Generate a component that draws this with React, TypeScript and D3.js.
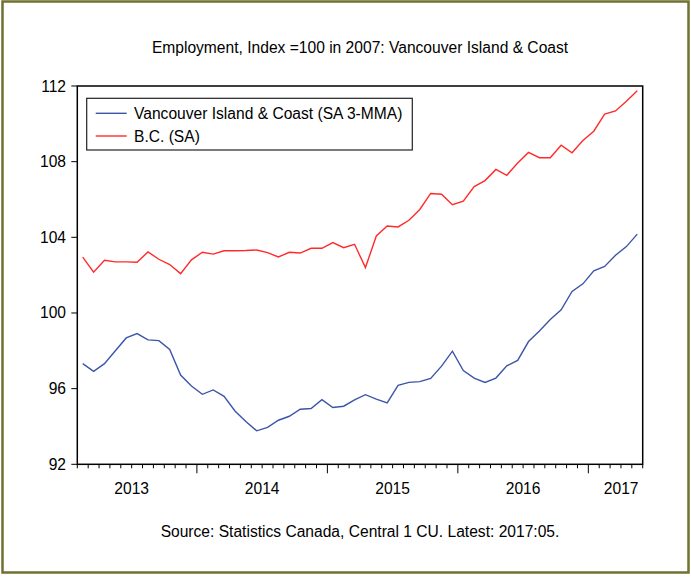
import React from "react";
import * as d3 from "d3";

const title = "Employment, Index =100 in 2007: Vancouver Island & Coast";
const source = "Source: Statistics Canada, Central 1 CU. Latest: 2017:05.";
const seriesNames = ["Vancouver Island & Coast (SA 3-MMA)", "B.C. (SA)"];
const startYear = 2013;
const startMonth = 2; // first observation: 2013:02
const yearLabels = ["2013", "2014", "2015", "2016", "2017"];
const yTicks = [92, 96, 100, 104, 108, 112];

const vancouverIsland = [
  97.32, 96.91, 97.32, 98.0, 98.68, 98.91, 98.58, 98.54, 98.07, 96.72,
  96.14, 95.7, 95.93, 95.59, 94.82, 94.26, 93.77, 93.95, 94.33, 94.54,
  94.91, 94.95, 95.42, 95.0, 95.07, 95.4, 95.68, 95.45, 95.25, 96.17,
  96.33, 96.37, 96.54, 97.19, 97.98, 96.96, 96.56, 96.33, 96.56, 97.21,
  97.49, 98.49, 99.05, 99.65, 100.17, 101.14, 101.54, 102.23, 102.46, 103.05,
  103.51, 104.17,
];

const bc = [
  102.95, 102.16, 102.79, 102.7, 102.7, 102.68, 103.23, 102.84, 102.56, 102.08,
  102.81, 103.21, 103.11, 103.29, 103.29, 103.3, 103.33, 103.19, 102.96, 103.21,
  103.17, 103.42, 103.42, 103.72, 103.45, 103.63, 102.4, 104.07, 104.6, 104.55,
  104.9, 105.47, 106.32, 106.28, 105.72, 105.91, 106.68, 107.0, 107.59, 107.28,
  107.93, 108.49, 108.21, 108.21, 108.87, 108.47, 109.12, 109.61, 110.51, 110.68,
  111.19, 111.75,
];

const colors = ["#3c55a8", "#ff2b2b"];

export default function App() {
  const W = 691;
  const H = 579;
  const left = 77.3;
  const right = 642.7;
  const top = 86;
  const bottom = 464.3;
  const fs = 15.6;

  // month index: 0 = start of 2013:02, observation i sits at i + 0.5
  const xs = d3.scaleLinear().domain([0, vancouverIsland.length]).range([left, right]);
  const y = d3.scaleLinear().domain([92, 112]).range([bottom, top]);

  const line = d3
    .line<number>()
    .x((_, i) => xs(i + 0.5))
    .y((v) => y(v));

  const monthTicks = d3.range(0, vancouverIsland.length + 1);
  const font = "'Liberation Sans', Arial, sans-serif";

  const yearLabelNodes = yearLabels.map((lab, k) => {
    const yr = +lab;
    const startIdx = (yr - startYear) * 12 - (startMonth - 1);
    let cx = xs(startIdx + 6);
    const half = 17.5;
    if (cx + half > right - 4) cx = right - 4 - half;
    if (cx - half < left) cx = left + half;
    return (
      <text key={k} x={cx} y={494} textAnchor="middle" fontSize={fs} fontFamily={font} fill="#000">
        {lab}
      </text>
    );
  });

  return (
    <svg
      width={W}
      height={H}
      style={{ position: "absolute", left: 0, top: 0, background: "#fff" }}
    >
      <rect x={0} y={0} width={W} height={H} fill="#fff" />
      <rect x={2.5} y={1.5} width={686} height={571} fill="#fff" stroke="#707030" strokeWidth={2.5} />
      <text x={360} y={53} textAnchor="middle" fontSize={fs} fontFamily={font} fill="#000">
        {title}
      </text>

      {/* y axis ticks */}
      {yTicks.map((t) => (
        <g key={t}>
          <line x1={left - 6} x2={left} y1={y(t)} y2={y(t)} stroke="#000" strokeWidth={1} />
          <text x={66} y={y(t) + 5.5} textAnchor="end" fontSize={fs} fontFamily={font} fill="#000">
            {t}
          </text>
        </g>
      ))}

      {/* x axis month ticks */}
      {monthTicks.map((i) => {
        const month = ((startMonth - 1 + i) % 12) + 1;
        const major = month === 1;
        return (
          <line
            key={i}
            x1={xs(i)}
            x2={xs(i)}
            y1={bottom}
            y2={bottom + (major ? 9 : 4)}
            stroke="#000"
            strokeWidth={1}
          />
        );
      })}
      {yearLabelNodes}

      {/* series */}
      <path d={line(vancouverIsland) || ""} fill="none" stroke={colors[0]} strokeWidth={1.4} />
      <path d={line(bc) || ""} fill="none" stroke={colors[1]} strokeWidth={1.4} />

      {/* plot frame */}
      <rect x={left} y={top} width={right - left} height={bottom - top} fill="none" stroke="#000" strokeWidth={1.5} />

      {/* legend */}
      <rect x={86.7} y={98.3} width={325.6} height={51.7} fill="#fff" stroke="#222" strokeWidth={1.2} />
      {seriesNames.map((name, i) => (
        <g key={name}>
          <line x1={95.7} x2={126.7} y1={113.3 + i * 22.7} y2={113.3 + i * 22.7} stroke={colors[i]} strokeWidth={1.4} />
          <text x={134} y={113.3 + i * 22.7 + 5.5} fontSize={fs} fontFamily={font} fill="#000">
            {name}
          </text>
        </g>
      ))}

      <text x={360} y={536.7} textAnchor="middle" fontSize={fs} fontFamily={font} fill="#000">
        {source}
      </text>
    </svg>
  );
}
